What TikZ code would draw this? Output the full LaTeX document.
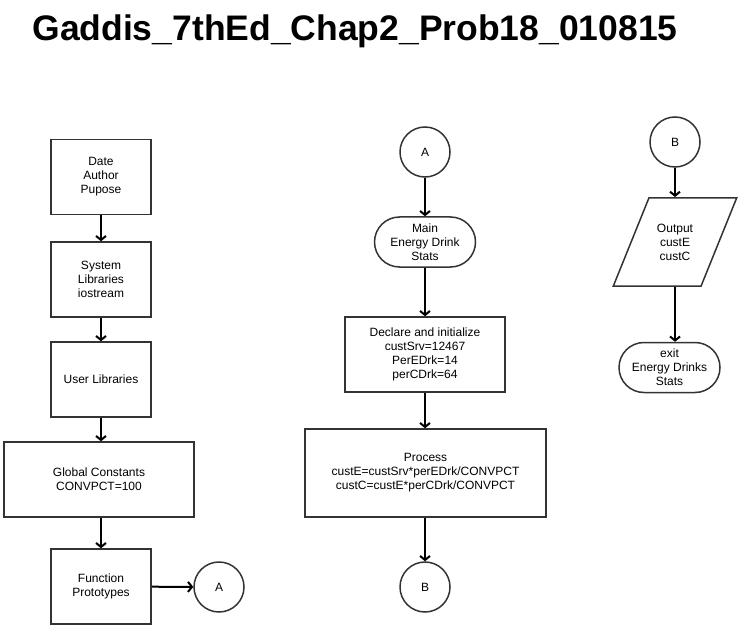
\documentclass[tikz,border=0pt]{standalone}
\usepackage{fontspec}
\setmainfont{Liberation Sans}
\usetikzlibrary{arrows.meta,shapes.geometric}
\begin{document}
\begin{tikzpicture}[x=1pt,y=-1pt,font=\fontsize{12}{14}\selectfont,
    box/.style={draw=black!80,line width=1.5pt,align=center,inner sep=2pt},
    proc/.style={box,rectangle,minimum width=100pt,minimum height=75pt},
    term/.style={box,rounded corners=25pt,minimum width=101pt,minimum height=50pt},
    conn/.style={box,circle,minimum size=50pt},
    io/.style={box,trapezium,trapezium left angle=68,trapezium right angle=112,
      text width=50pt,inner xsep=1pt,inner ysep=26pt},
    flow/.style={-{Straight Barb[length=4pt,width=10pt]},line width=2pt}]
\useasboundingbox (0,0) rectangle (746,644);
% title
\node (title) at (355,31) {\fontsize{35.5}{40}\selectfont\bfseries Gaddis\_7thEd\_Chap2\_Prob18\_010815};
% left column
\node[proc] (hdr) at (101,177) {Date\\Author\\Pupose};
\node[proc] (syslib) at (101,279.5) {System\\Libraries\\iostream};
\node[proc] (usrlib) at (101,379.5) {User Libraries};
\node[proc,minimum width=190pt] (glob) at (99,479.5) {Global Constants\\CONVPCT=100};
\node[proc] (proto) at (101,586.5) {Function\\Prototypes};
\node[conn] (offA) at (219,587) {A};
\draw[flow] (hdr) -- (syslib);
\draw[flow] (syslib) -- (usrlib);
\draw[flow] (usrlib) -- (usrlib |- glob.north);
\draw[flow] (glob.south -| proto) -- (proto);
\draw[flow] (proto) -- (offA);
% middle column
\node[conn] (onA) at (425,152) {A};
\node[term] (mainT) at (425,242) {Main\\Energy Drink\\Stats};
\node[proc,minimum width=160pt] (decl) at (425,354.5) {Declare and initialize\\custSrv=12467\\PerEDrk=14\\perCDrk=64};
\node[proc,minimum width=241pt,minimum height=88pt] (calc) at (425.5,473) {Process\\custE=custSrv*perEDrk/CONVPCT\\custC=custE*perCDrk/CONVPCT};
\node[conn] (offB) at (425,587) {B};
\draw[flow] (onA) -- (mainT);
\draw[flow] (mainT) -- (decl);
\draw[flow] (decl) -- (decl |- calc.north);
\draw[flow] (calc.south -| offB) -- (offB);
% right column
\node[conn] (onB) at (675,142) {B};
\node[io] (out) at (675,242) {Output\\custE\\custC};
\node[term] (exitT) at (669.5,367.5) {exit\\Energy Drinks\\Stats};
\draw[flow] (onB) -- (out);
\draw[flow] (out.south) -- (out.south |- exitT.north);
\end{tikzpicture}
\end{document}
